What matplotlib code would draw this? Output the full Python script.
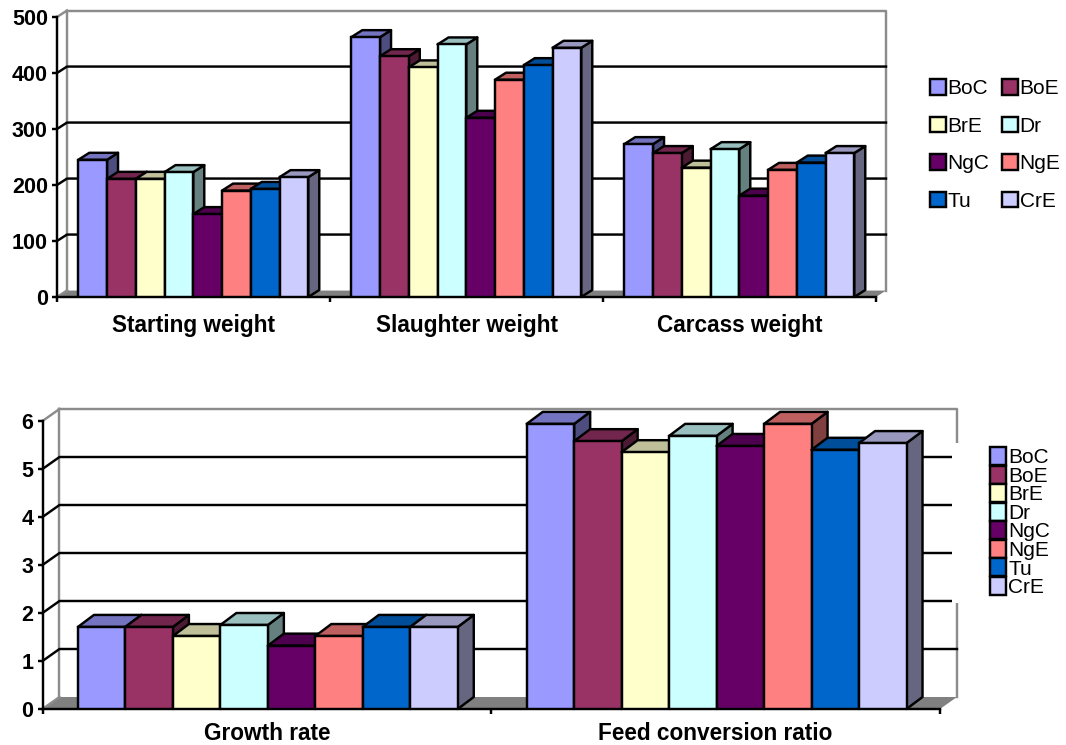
import matplotlib
matplotlib.use("Agg")
import matplotlib.pyplot as plt
from matplotlib.patches import Patch, Rectangle
from matplotlib.colors import to_rgb

plt.rcParams['font.family'] = ['Liberation Sans', 'DejaVu Sans']

series = ["BoC", "BoE", "BrE", "Dr", "NgC", "NgE", "Tu", "CrE"]
colors = ["#9999FF", "#993366", "#FFFFCC", "#CCFFFF", "#660066", "#FF8080", "#0066CC", "#CCCCFF"]

weight_groups = ["Starting weight", "Slaughter weight", "Carcass weight"]
starting_weight = [245, 211, 211, 223, 148, 190, 193, 214]
slaughter_weight = [464, 430, 410, 451, 320, 388, 414, 445]
carcass_weight = [273, 257, 231, 264, 181, 227, 240, 257]

rate_groups = ["Growth rate", "Feed conversion ratio"]
growth_rate = [1.71, 1.71, 1.52, 1.75, 1.32, 1.52, 1.71, 1.71]
feed_conversion = [5.94, 5.58, 5.35, 5.69, 5.48, 5.94, 5.40, 5.54]

W, H = 1066, 745
LW = 1.75
GREY = "#8C8C8C"
FLOOR = "#808080"

fig = plt.figure(figsize=(W / 100, H / 100), dpi=100)


def shade(c, f):
    return tuple(v * f for v in to_rgb(c))


def make_axes(x0, x1, ytop, y0):
    ax = fig.add_axes([x0 / W, 1 - y0 / H, (x1 - x0) / W, (y0 - ytop) / H])
    ax.patch.set_alpha(0)
    for s in ("top", "right"):
        ax.spines[s].set_visible(False)
    for s in ("left", "bottom"):
        ax.spines[s].set_linewidth(LW)
        ax.spines[s].set_zorder(1.5)
    return ax


def chart(ax, groups, data, ymax, yticks, start, bw, wall, depth, tickfs, catfs, pad):
    ng = len(groups)
    ax.set_xlim(0, ng)
    ax.set_ylim(0, ymax)
    wx, wy = wall
    dx, dy = depth
    # floor
    ax.fill([0, ng, ng + wx, wx], [0, 0, wy, wy], color=FLOOR, zorder=1, clip_on=False, lw=0)
    # walls
    ax.plot([wx, wx], [wy, ymax + wy], color=GREY, lw=LW, zorder=1.1, clip_on=False)
    ax.plot([wx, ng + wx, ng + wx], [ymax + wy, ymax + wy, wy], color=GREY, lw=LW, zorder=1.1, clip_on=False)
    ax.plot([0, wx], [ymax, ymax + wy], color=GREY, lw=LW, zorder=1.1, clip_on=False)
    ax.plot([0, wx], [0, wy], color=GREY, lw=LW, zorder=1.1, clip_on=False)
    for v in yticks[1:-1]:
        ax.plot([0, wx, ng + wx], [v, v + wy, v + wy], color="black", lw=LW, zorder=1.2, clip_on=False)
    # bars, drawn left to right so that each one hides the side of the one before
    z = 2.0
    for g, vals in enumerate(data):
        for i, v in enumerate(vals):
            left = g + start + i * bw
            right = left + bw
            c = colors[i]
            ax.fill([right, right + dx, right + dx, right], [0, dy, v + dy, v],
                    facecolor=shade(c, 0.5), edgecolor="black", lw=LW, zorder=z, clip_on=False, joinstyle="round")
            ax.fill([left, right, right + dx, left + dx], [v, v, v + dy, v + dy],
                    facecolor=shade(c, 0.75), edgecolor="black", lw=LW, zorder=z, clip_on=False, joinstyle="round")
            ax.bar([left + bw / 2], [v], width=bw, facecolor=c, edgecolor="black", lw=LW, zorder=z + 0.01)
            z += 0.02
    ax.set_yticks(yticks)
    ax.set_yticklabels([str(t) for t in yticks], fontsize=tickfs, fontweight="bold")
    ax.set_xticks(list(range(ng + 1)))
    ax.set_xticklabels([])
    ax.set_xticks([g + 0.5 for g in range(ng)], minor=True)
    ax.set_xticklabels(groups, minor=True, fontsize=catfs, fontweight="bold")
    ax.tick_params(axis="both", which="major", length=3.8, width=LW, pad=2.8)
    ax.tick_params(axis="x", which="minor", length=0, pad=pad)


handles = [Patch(facecolor=c, edgecolor="black", lw=LW, label=s) for c, s in zip(colors, series)]

# upper chart
ax1 = make_axes(57, 876, 17, 297)
chart(ax1, weight_groups, [starting_weight, slaughter_weight, carcass_weight], 500,
      [0, 100, 200, 300, 400, 500], 0.078, 0.1053, (10 / 273, 11.5), (11 / 273, 12.5), 15.5, 16.3, 12)
# the legend fills columns first; the reference reads row by row
row_order = [0, 2, 4, 6, 1, 3, 5, 7]
leg1 = fig.legend(handles=[handles[i] for i in row_order], ncol=2, loc="upper left",
                  bbox_to_anchor=(924 / W, 1 - 73 / H),
                  frameon=False, fontsize=15, handlelength=0.75, handleheight=0.78,
                  handletextpad=0.08, columnspacing=0.62, labelspacing=0.88, borderpad=0.3, borderaxespad=0)

# lower chart
ax2 = make_axes(42.5, 940, 421, 709)
chart(ax2, rate_groups, [growth_rate, feed_conversion], 6,
      [0, 1, 2, 3, 4, 5, 6], 0.079, 0.1058, (17 / 449, 0.25), (16 / 449, 0.25), 15.5, 16.3, 9)
ax2.add_patch(Rectangle((952 / W, 1 - 603 / H), 108 / W, 160 / H, transform=fig.transFigure,
                        facecolor="white", edgecolor="none", zorder=20, clip_on=False))
leg2 = fig.legend(handles=handles, ncol=1, loc="upper left", bbox_to_anchor=(988 / W, 1 - 445 / H),
                  frameon=False, fontsize=15, handlelength=0.78, handleheight=0.96,
                  handletextpad=0.1, labelspacing=-0.08, borderpad=0.1, borderaxespad=0)
leg2.set_zorder(30)

fig.savefig("out.png", dpi=100)
